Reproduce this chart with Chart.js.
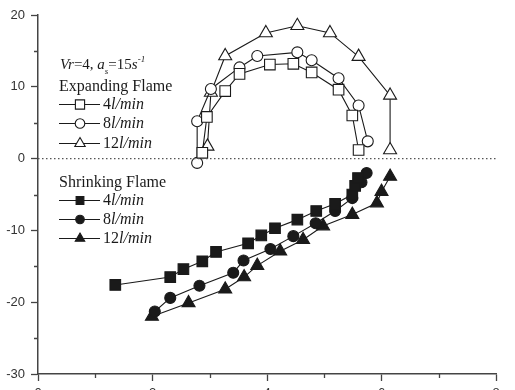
<!DOCTYPE html>
<html>
<head>
<meta charset="utf-8">
<script src="https://cdn.jsdelivr.net/npm/chart.js@4/dist/chart.umd.min.js"></script>
<style>
  html, body { margin: 0; padding: 0; background: #fff; overflow: hidden; }
  #wrap { width: 515px; height: 390px; overflow: hidden; }
</style>
</head>
<body>
<div id="wrap"><canvas id="flameChart" width="515" height="410"></canvas></div>
<script>
// expanding flame (open markers)
const expX4 = [2.87, 2.95, 3.27, 3.52, 4.05, 4.46, 4.78, 5.25, 5.49, 5.60];
const expY4 = [0.8, 5.8, 9.4, 11.8, 13.1, 13.2, 12.0, 9.6, 6.0, 1.2];

const expX8 = [2.78, 2.78, 3.02, 3.52, 3.83, 4.53, 4.78, 5.25, 5.60, 5.76];
const expY8 = [-0.6, 5.2, 9.7, 12.7, 14.3, 14.8, 13.7, 11.2, 7.4, 2.4];

const expX12 = [2.96, 3.02, 3.27, 3.98, 4.53, 5.10, 5.60, 6.15, 6.15];
const expY12 = [1.7, 9.2, 14.3, 17.5, 18.5, 17.5, 14.2, 8.8, 1.2];

// shrinking flame (filled markers)
const shrX4 = [1.35, 2.31, 2.54, 2.87, 3.11, 3.67, 3.90, 4.14, 4.53, 4.86, 5.19, 5.49, 5.54, 5.59];
const shrY4 = [-17.6, -16.5, -15.4, -14.3, -13.0, -11.8, -10.7, -9.7, -8.5, -7.3, -6.3, -5.0, -3.8, -2.7];

const shrX8 = [2.04, 2.31, 2.82, 3.41, 3.59, 4.06, 4.46, 4.85, 5.19, 5.49, 5.65, 5.74];
const shrY8 = [-21.3, -19.4, -17.7, -15.9, -14.2, -12.6, -10.8, -9.0, -7.3, -5.5, -3.3, -2.0];

const shrX12 = [1.99, 2.63, 3.27, 3.60, 3.83, 4.23, 4.63, 4.98, 5.49, 5.92, 6.00, 6.15];
const shrY12 = [-22.0, -20.1, -18.2, -16.5, -14.9, -12.9, -11.3, -9.4, -7.8, -6.2, -4.6, -2.5];

// zero reference line
const zeroX = [0, 8];
const zeroY = [0, 0];

const minorX = [1, 3, 5, 7];
const minorY = [-25, -15, -5, 5, 15];

const flowLabels = ["4", "8", "12"];

const INK = "#1a1a1a";
const AXIS = "#444";
const SERIF = "'Liberation Serif', 'Times New Roman', serif";


function pts(xs, ys) {
    return xs.map((x, i) => ({ x: x, y: ys[i] }));
}


function series(xs, ys, style, open, radius) {
    return {
        data: pts(xs, ys),
        showLine: true,
        borderColor: INK,
        borderWidth: 1.1,
        pointStyle: style,
        pointRadius: radius,
        pointBorderWidth: 1.1,
        pointBorderColor: INK,
        pointBackgroundColor: open ? "#fff" : INK,
        tension: 0
    };
}


// minor ticks on both axes
const minorTicks = {
    id: "minorTicks",
    afterDraw(chart) {
        const ctx = chart.ctx;
        const xs = chart.scales.x;
        const ys = chart.scales.y;
        ctx.save();
        ctx.strokeStyle = AXIS;
        ctx.lineWidth = 1.3;
        ctx.beginPath();
        minorX.forEach(v => {
            const px = Math.round(xs.getPixelForValue(v)) + 0.5;
            ctx.moveTo(px, xs.top);
            ctx.lineTo(px, xs.top + 4);
        });
        minorY.forEach(v => {
            const py = Math.round(ys.getPixelForValue(v)) + 0.5;
            ctx.moveTo(ys.right, py);
            ctx.lineTo(ys.right - 4, py);
        });
        ctx.stroke();
        ctx.restore();
    }
};


// text block + marker legend inside the plot
const flameLegend = {
    id: "flameLegend",
    afterDraw(chart) {
        const ctx = chart.ctx;
        const h = Chart.helpers;
        ctx.save();
        ctx.fillStyle = INK;
        ctx.textBaseline = "alphabetic";

        // Vr=4, a_s=15s^-1
        let x = 60;
        const by = 69;
        const piece = (txt, font, dy) => {
            ctx.font = font;
            ctx.fillText(txt, x, by + (dy || 0));
            x += ctx.measureText(txt).width;
        };
        piece("Vr", "italic 15px " + SERIF);
        piece("=4, ", "15px " + SERIF);
        piece("a", "italic 15px " + SERIF);
        piece("s", "italic 9px " + SERIF, 5);
        piece("=15", "15px " + SERIF);
        piece("s", "italic 15px " + SERIF);
        piece("-1", "italic 9px " + SERIF, -7);

        ctx.font = "16px " + SERIF;
        ctx.fillText("Expanding Flame", 59, 91);
        ctx.fillText("Shrinking Flame", 59, 187);

        const rows = [
            { y: 104, style: "rect", open: true, r: 6.5 },
            { y: 123, style: "circle", open: true, r: 4.8 },
            { y: 143, style: "triangle", open: true, r: 6 },
            { y: 200, style: "rect", open: false, r: 5.5 },
            { y: 219, style: "circle", open: false, r: 4.3 },
            { y: 238, style: "triangle", open: false, r: 5.5 }
        ];

        rows.forEach((row, i) => {
            ctx.strokeStyle = INK;
            ctx.lineWidth = 1.1;
            ctx.beginPath();
            ctx.moveTo(59, row.y + 0.5);
            ctx.lineTo(100, row.y + 0.5);
            ctx.stroke();

            ctx.fillStyle = row.open ? "#fff" : INK;
            h.drawPoint(ctx, {
                pointStyle: row.style,
                radius: row.r,
                rotation: 0,
                borderWidth: 1.1
            }, 80, row.y + 0.5);

            ctx.fillStyle = INK;
            let lx = 103;
            const ly = row.y + 5;
            ctx.font = "16px " + SERIF;
            const num = flowLabels[i % 3];
            ctx.fillText(num, lx, ly);
            lx += ctx.measureText(num).width;
            ctx.font = "italic 16px " + SERIF;
            ctx.fillText("l/min", lx, ly);
        });

        ctx.restore();
    }
};


new Chart(document.getElementById("flameChart"), {
    type: "scatter",
    data: {
        datasets: [
            {
                data: pts(zeroX, zeroY),
                showLine: true,
                borderColor: "#555",
                borderWidth: 1.4,
                borderDash: [1.5, 2.5],
                pointRadius: 0
            },
            series(expX4, expY4, "rect", true, 7.5),
            series(expX8, expY8, "circle", true, 5.5),
            series(expX12, expY12, "triangle", true, 7.5),
            series(shrX4, shrY4, "rect", false, 7.5),
            series(shrX8, shrY8, "circle", false, 5.5),
            series(shrX12, shrY12, "triangle", false, 7.5)
        ]
    },
    options: {
        responsive: false,
        animation: false,
        devicePixelRatio: 1,
        layout: {
            padding: { top: 15, right: 19, bottom: 0, left: 0 }
        },
        plugins: {
            legend: { display: false },
            tooltip: { enabled: false }
        },
        scales: {
            x: {
                type: "linear",
                min: 0,
                max: 8,
                afterFit(scale) {
                    scale.height = 36;
                },
                ticks: {
                    stepSize: 2,
                    padding: 5,
                    color: "#333",
                    font: { family: "'Liberation Sans', Arial, sans-serif", size: 13 }
                },
                grid: {
                    drawOnChartArea: false,
                    tickLength: 7,
                    tickColor: AXIS,
                    tickWidth: 1.3
                },
                border: { color: AXIS, width: 1.5 }
            },
            y: {
                min: -30,
                max: 20,
                afterFit(scale) {
                    scale.width = 38;
                },
                ticks: {
                    stepSize: 10,
                    padding: 6,
                    color: "#333",
                    font: { family: "'Liberation Sans', Arial, sans-serif", size: 13 }
                },
                grid: {
                    drawOnChartArea: false,
                    tickLength: 7,
                    tickColor: AXIS,
                    tickWidth: 1.3
                },
                border: { color: AXIS, width: 1.5 }
            }
        }
    },
    plugins: [minorTicks, flameLegend]
});
</script>
</body>
</html>
